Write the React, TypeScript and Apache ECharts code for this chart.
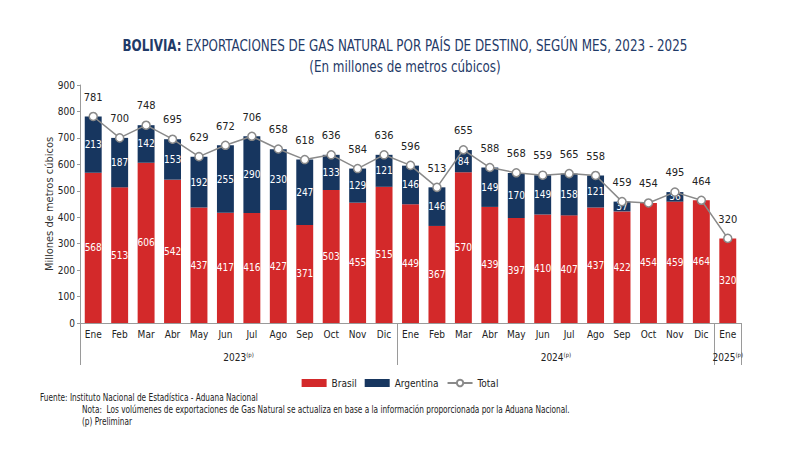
import * as echarts from 'echarts';
import React, { useEffect, useRef } from 'react';

const months = ['Ene', 'Feb', 'Mar', 'Abr', 'May', 'Jun', 'Jul', 'Ago', 'Sep', 'Oct', 'Nov', 'Dic',
  'Ene', 'Feb', 'Mar', 'Abr', 'May', 'Jun', 'Jul', 'Ago', 'Sep', 'Oct', 'Nov', 'Dic', 'Ene'];
const brasil = [568, 513, 606, 542, 437, 417, 416, 427, 371, 503, 455, 515,
  449, 367, 570, 439, 397, 410, 407, 437, 422, 454, 459, 464, 320];
const argentina = [213, 187, 142, 153, 192, 255, 290, 230, 247, 133, 129, 121,
  146, 146, 84, 149, 170, 149, 158, 121, 37, null, 36, null, null];
const total = [781, 700, 748, 695, 629, 672, 706, 658, 618, 636, 584, 636,
  596, 513, 655, 588, 568, 559, 565, 558, 459, 454, 495, 464, 320];
// years: label, first month index, month count
const years = [['2023', 0, 12], ['2024', 12, 12], ['2025', 24, 1]];

const FONT = "'DejaVu Sans Condensed', 'Liberation Sans', sans-serif";
const RED = '#d3292a';
const NAVY = '#17365f';
const TITLE_COLOR = '#1f3a68';
const SQUEEZE = 0.82; // reference font is narrower than anything installed

const App: React.FC = () => {
  const chartRef = useRef<HTMLDivElement>(null);

  useEffect(() => {
    const myChart = echarts.init(chartRef.current!, null, { renderer: 'svg' });

    // year separators and label centres on a 0..25 scale
    const yearTicks: number[] = [];
    const yearCentres: number[] = [];
    years.forEach(([, start, n]) => {
      yearTicks.push(start as number);
      yearCentres.push((start as number) + (n as number) / 2);
    });
    yearTicks.push(months.length);

    const note = (text: string, x: number, y: number) => ({
      type: 'text',
      x,
      y,
      scaleX: SQUEEZE,
      style: { text, fontFamily: FONT, fontSize: 10, fill: '#222', verticalAlign: 'middle' },
    });

    const option = {
      animation: false,
      textStyle: { fontFamily: FONT },
      legend: {
        top: 373,
        left: 'center',
        itemWidth: 25,
        itemHeight: 8,
        itemGap: 8,
        textStyle: { fontFamily: FONT, fontSize: 10, color: '#222' },
        data: [
          { name: 'Brasil', icon: 'rect' },
          { name: 'Argentina', icon: 'rect' },
          { name: 'Total' },
        ],
      },
      grid: { left: 80, right: 59, top: 85, bottom: 127 },
      xAxis: [
        {
          type: 'category',
          data: months,
          position: 'bottom',
          axisLine: { lineStyle: { color: '#9a9a9a' } },
          axisTick: { show: false },
          axisLabel: { interval: 0, fontFamily: FONT, fontSize: 10, color: '#222', margin: 6 },
        },
        {
          type: 'value',
          min: 0,
          max: months.length,
          position: 'bottom',
          axisLine: { show: false },
          splitLine: { show: false },
          axisTick: {
            show: true,
            customValues: yearTicks,
            length: 42,
            lineStyle: { color: '#9a9a9a' },
          },
          axisLabel: {
            customValues: yearCentres,
            margin: 28,
            fontFamily: FONT,
            fontSize: 10,
            color: '#222',
            formatter: (v: number) => {
              const y = years.find(([, s, n]) => (s as number) + (n as number) / 2 === v);
              return y ? `${y[0]}{sup|(p)}` : '';
            },
            rich: { sup: { fontFamily: FONT, fontSize: 6, color: '#222', padding: [0, 0, 7, 0] } },
          },
        },
      ],
      yAxis: {
        type: 'value',
        min: 0,
        max: 900,
        interval: 100,
        name: 'Millones de metros cúbicos',
        nameLocation: 'middle',
        nameGap: 25,
        nameMoveOverlap: false,
        nameTextStyle: { fontFamily: FONT, fontSize: 11, color: '#333' },
        axisLine: { show: true, lineStyle: { color: '#9a9a9a' } },
        axisTick: { show: true, length: 3, lineStyle: { color: '#9a9a9a' } },
        splitLine: { show: false },
        axisLabel: { fontFamily: FONT, fontSize: 10, color: '#222', margin: 5 },
      },
      series: [
        {
          name: 'Brasil',
          type: 'bar',
          stack: 'gas',
          barWidth: '64%',
          data: brasil,
          itemStyle: { color: RED },
          label: {
            show: true,
            position: 'inside',
            color: '#fff',
            fontFamily: FONT,
            fontSize: 10,
          },
        },
        {
          name: 'Argentina',
          type: 'bar',
          stack: 'gas',
          data: argentina,
          itemStyle: { color: NAVY },
          label: {
            show: true,
            position: 'inside',
            color: '#fff',
            fontFamily: FONT,
            fontSize: 10,
          },
        },
        {
          name: 'Total',
          type: 'line',
          data: total,
          symbol: 'circle',
          symbolSize: 8,
          z: 5,
          lineStyle: { color: '#8a8a8a', width: 1.5 },
          itemStyle: { color: '#fff', borderColor: '#8a8a8a', borderWidth: 1.5 },
          label: {
            show: true,
            position: 'top',
            distance: 9,
            color: '#222',
            fontFamily: FONT,
            fontSize: 11,
          },
        },
      ],
      graphic: [
        {
          type: 'text',
          x: 405,
          y: 45,
          scaleX: 0.83,
          style: {
            text: '{b|BOLIVIA:} EXPORTACIONES DE GAS NATURAL POR PAÍS DE DESTINO, SEGÚN MES, 2023 - 2025',
            align: 'center',
            verticalAlign: 'middle',
            fontFamily: FONT,
            fontSize: 16,
            fill: TITLE_COLOR,
            rich: { b: { fontFamily: FONT, fontSize: 16, fontWeight: 'bold', fill: TITLE_COLOR } },
          },
        },
        {
          type: 'text',
          x: 405,
          y: 66,
          scaleX: 0.83,
          style: {
            text: '(En millones de metros cúbicos)',
            align: 'center',
            verticalAlign: 'middle',
            fontFamily: FONT,
            fontSize: 16,
            fill: TITLE_COLOR,
          },
        },
        note('Fuente: Instituto Nacional de Estadística - Aduana Nacional', 40, 398),
        note('Nota:  Los volúmenes de exportaciones de Gas Natural se actualiza en base a la información proporcionada por la Aduana Nacional.', 82, 410),
        note('(p) Preliminar', 82, 422),
      ],
    };

    myChart.setOption(option);

    return () => {
      myChart.dispose();
    };
  }, []);

  return <div ref={chartRef} style={{ width: '800px', height: '450px', margin: '-8px' }} />;
};

export default App;
